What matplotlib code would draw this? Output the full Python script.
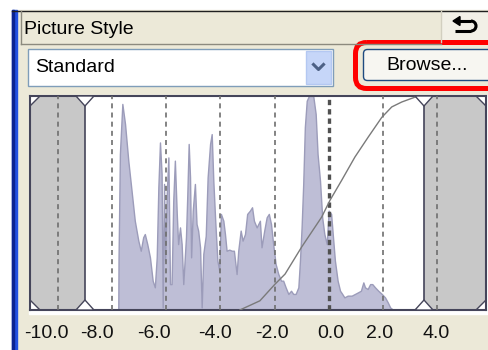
import matplotlib
matplotlib.use('Agg')
import matplotlib.pyplot as plt
from matplotlib.patches import Rectangle, FancyBboxPatch, Polygon, Arc

plt.rcParams['font.family'] = ['Liberation Sans', 'DejaVu Sans']

# histogram (x in stops, height in % of panel)
hist_x = [-7.77, -7.76, -7.71, -7.62, -7.52, -7.40, -7.28, -7.16, -7.03, -6.94,
          -6.85, -6.79, -6.70, -6.60, -6.50, -6.42, -6.35, -6.29, -6.23, -6.17,
          -6.13, -6.08, -6.04, -5.98, -5.92, -5.86, -5.80, -5.74, -5.68, -5.61,
          -5.56, -5.49, -5.43, -5.37, -5.27, -5.22, -5.17, -5.12, -5.08, -5.02,
          -4.94, -4.88, -4.82, -4.75, -4.69, -4.63, -4.54, -4.47, -4.38, -4.32,
          -4.26, -4.19, -4.11, -4.04, -3.98, -3.89, -3.83, -3.77, -3.67, -3.58,
          -3.50, -3.40, -3.34, -3.25, -3.18, -3.09, -3.01, -2.91, -2.83, -2.76,
          -2.66, -2.54, -2.48, -2.38, -2.29, -2.21, -2.13, -2.05, -1.96, -1.86,
          -1.76, -1.68, -1.59, -1.49, -1.39, -1.31, -1.22, -1.12, -1.06, -1.00,
          -0.94, -0.88, -0.81, -0.73, -0.57, -0.48, -0.41, -0.32, -0.24, -0.16,
          -0.07, 0.00, 0.09, 0.17, 0.23, 0.33, 0.42, 0.50, 0.58, 0.70,
          0.85, 0.97, 1.09, 1.19, 1.28, 1.34, 1.44, 1.53, 1.61, 1.71,
          1.83, 1.96, 2.08, 2.18, 2.27, 2.39]
hist_h = [0, 23.8, 72.9, 96.3, 86.9, 69.8, 55.8, 41.7, 32.4, 27.7,
          34.0, 35.5, 30.8, 24.6, 13.7, 10.6, 24.6, 57.3, 78.3, 63.6,
          1.2, 58.9, 23.1, 54.2, 71.3, 12.1, 12.1, 51.1, 69.8, 44.9,
          30.8, 38.6, 30.8, 12.1, 34.0, 54.2, 77.6, 62.0, 24.6, 46.4,
          58.9, 40.2, 37.1, 29.3, 1.2, 26.2, 34.7, 62.0, 77.6, 82.2,
          60.4, 41.7, 23.1, 18.4, 44.9, 41.7, 35.5, 27.7, 28.2, 27.7,
          27.7, 16.8, 27.7, 37.1, 32.4, 35.5, 44.9, 46.4, 48.0, 41.7,
          38.6, 41.7, 29.3, 37.1, 43.3, 44.9, 40.2, 30.8, 21.5, 16.8,
          13.7, 13.7, 10.6, 7.5, 9.0, 7.5, 7.5, 10.6, 23.1, 38.6,
          58.9, 85.4, 97.8, 100, 100, 91.6, 72.9, 60.4, 43.3, 35.5,
          30.8, 46.4, 44.9, 32.4, 23.1, 13.7, 9.0, 7.5, 5.9, 6.7,
          6.7, 7.5, 8.3, 9.0, 12.9, 10.6, 9.8, 12.1, 12.1, 10.6,
          9.0, 7.5, 5.9, 3.6, 1.2, 0]

# tone curve
curve_x = [-3.28, -2.54, -1.98, -1.61, -1.00, -0.26, 0.05, 0.48, 0.97, 1.46,
           1.96, 2.33, 2.70, 3.11, 3.30]
curve_y = [0, 4.3, 12.1, 16.8, 29.4, 43.4, 51.3, 60.6, 71.5, 80.8,
           90.0, 94.9, 97.2, 99.1, 100]

tick_vals = [-10, -8, -6, -4, -2, 0, 2, 4]
tick_labels = ['-10.0', '-8.0', '-6.0', '-4.0', '-2.0', '0.0', '2.0', '4.0']
clip_lo, clip_hi = -9.0, 3.52

title = 'Picture Style'
style_name = 'Standard'
button_text = 'Browse...'

BEIGE = '#ECE9D8'
W, H = 488, 350
fig = plt.figure(figsize=(W / 100, H / 100), dpi=100)

# ---- window chrome, drawn in pixel coords ----
bg = fig.add_axes([0, 0, 1, 1])
bg.set_xlim(0, W)
bg.set_ylim(H, 0)
bg.axis('off')
bg.add_patch(Rectangle((0, 0), W, H, color='white'))
bg.add_patch(Rectangle((12, 10), W - 12, H - 10, color=BEIGE))
bg.add_patch(Rectangle((12, 10), 5, H - 10, color='#2250E0'))
bg.add_patch(Rectangle((12, 10), 1.5, H - 10, color='#0B2390'))
bg.plot([12, W], [10.5, 10.5], color='#202020', lw=1)

# header
bg.plot([20.5, 20.5], [11, 44], color='#8C8A7E', lw=1)
bg.plot([20.5, 441], [43.5, 43.5], color='#8C8A7E', lw=1)
bg.text(24, 29, title, fontsize=14, va='center', ha='left', color='black')

# undo button
bg.add_patch(Rectangle((441, 11), W - 441, 31, color='#F2F0E7'))
bg.plot([441, 441], [11, 42], color='#D2CFC0', lw=1)
bg.plot([459, 471], [21, 21], color='black', lw=2.2, solid_capstyle='butt')
bg.plot([471, 455], [31, 31], color='black', lw=2.2, solid_capstyle='butt')
bg.add_patch(Arc((471, 26), 10, 10, theta1=-90, theta2=90, color='black', lw=2.2))
bg.add_patch(Polygon([(453, 21), (460, 16.5), (460, 25.5)], color='black'))

# dropdown
bg.add_patch(Rectangle((28, 49), 305, 37, facecolor='white', edgecolor='#7F9DB9', lw=1))
bg.add_patch(Rectangle((306, 51), 25, 33, facecolor='#C6D6F8', edgecolor='#B4C8F2', lw=1))
bg.plot([313.5, 318.5, 323.5], [64.5, 69.5, 64.5], color='#4D6185', lw=2.2)
bg.text(35, 68, style_name, fontsize=14, va='center', ha='left', color='black')

# browse button + red highlight
bg.add_patch(FancyBboxPatch((363.5, 49.5), 140, 31, boxstyle='round,pad=0,rounding_size=4',
                            facecolor='#F7F6F1', edgecolor='#1E4A80', lw=1))
bg.text(427, 65, button_text, fontsize=14, va='center', ha='center', color='black')
bg.add_patch(FancyBboxPatch((355.5, 42.5), 150, 46, boxstyle='round,pad=0,rounding_size=11',
                            facecolor='none', edgecolor='#FF0000', lw=3.6))

# sunken frame behind the histogram
bg.add_patch(Rectangle((29, 95), W - 29, 219, color='white'))

# ---- histogram panel ----
ax = fig.add_axes([30 / W, 1 - 310 / H, 456 / W, 214 / H])
x0, x1 = -11.03, 5.81
ax.set_xlim(x0, x1)
ax.set_ylim(0, 100)
ax.set_xticks([])
ax.set_yticks([])
for s in ax.spines.values():
    s.set_color('#45455A')
    s.set_linewidth(1.5)

sx = (x1 - x0) / 456.0   # stops per pixel
sy = 100 / 214.0         # height units per pixel

ax.fill_between(hist_x, hist_h, 0, facecolor='#BEBED6', edgecolor='#9C9CBA', lw=1, zorder=1)

c = 10
gray = '#C8C8C8'
edge = '#45455A'
left_poly = [(x0, c * sy), (x0 + c * sx, 0), (clip_lo, 0), (clip_lo, 100),
             (x0 + c * sx, 100), (x0, 100 - c * sy)]
right_poly = [(clip_hi, 0), (x1 - c * sx, 0), (x1, c * sy), (x1, 100 - c * sy),
              (x1 - c * sx, 100), (clip_hi, 100)]
ax.add_patch(Polygon(left_poly, facecolor=gray, edgecolor='none', zorder=2))
ax.add_patch(Polygon(right_poly, facecolor=gray, edgecolor='none', zorder=2))
ax.plot([x0, x0 + c * sx], [c * sy, 0], color=edge, lw=1, zorder=2.5)
ax.plot([x0, x0 + c * sx], [100 - c * sy, 100], color=edge, lw=1, zorder=2.5)
ax.plot([x1, x1 - c * sx], [c * sy, 0], color=edge, lw=1, zorder=2.5)
ax.plot([x1, x1 - c * sx], [100 - c * sy, 100], color=edge, lw=1, zorder=2.5)
for xc in (clip_lo, clip_hi):
    ax.plot([xc, xc], [0, 100], color=edge, lw=1.2, zorder=2.5)

for v in tick_vals:
    if v == 0:
        ax.axvline(v, color='#505050', lw=2.4, ls=(0, (1.6, 1.2)), zorder=3)
    else:
        ax.axvline(v, color='#6E6E6E', lw=1.2, ls=(0, (3, 2.5)), zorder=3)

ax.plot(curve_x, curve_y, color='#7A7A7A', lw=1, zorder=4)

# clipping markers
m = 9
for xc in (clip_lo, clip_hi):
    ax.add_patch(Polygon([(xc - m * sx, 100), (xc + m * sx, 100), (xc, 100 - 10 * sy)],
                         facecolor='white', edgecolor=edge, lw=1, zorder=5, clip_on=False))
    ax.add_patch(Polygon([(xc - m * sx, 0), (xc + m * sx, 0), (xc, 10 * sy)],
                         facecolor='white', edgecolor=edge, lw=1, zorder=5, clip_on=False))

# tick labels sit a little off the grid lines in the screenshot
label_nudge_px = [-12, -15, -12, -5, -3, 2, -3, -1]
for v, lab, d in zip(tick_vals, tick_labels, label_nudge_px):
    ax.text(v + d * sx, -(333 - 310) / 214.0, lab, transform=ax.get_xaxis_transform(),
            fontsize=14, ha='center', va='center', color='#111111', clip_on=False)

fig.savefig('out.png', dpi=100)
